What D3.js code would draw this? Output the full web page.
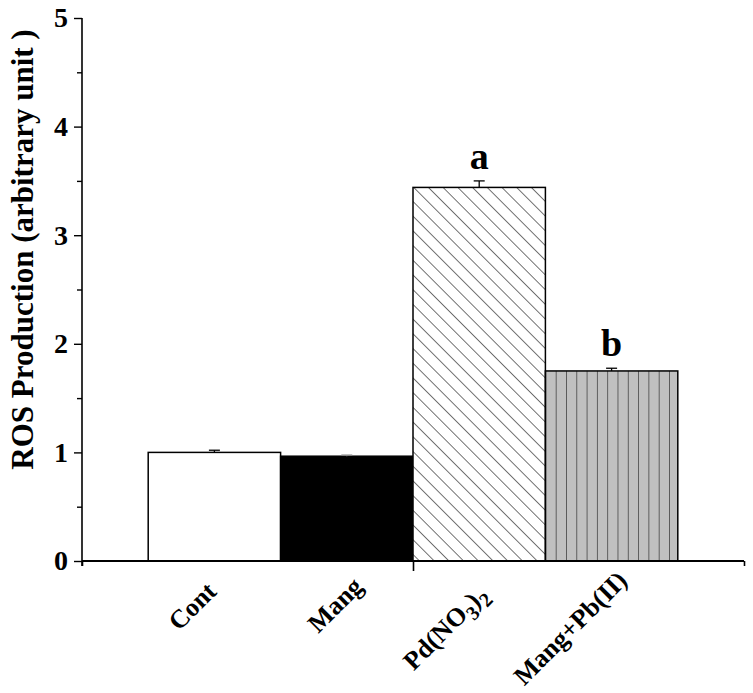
<!DOCTYPE html>
<html><head><meta charset="utf-8">
<script src="https://cdn.jsdelivr.net/npm/d3@7"></script>
<style>body{margin:0;background:#fff}svg{display:block}</style>
</head><body><svg id="c" width="753" height="693"></svg>
<script>
// ---- data ----
const categories = ["Cont", "Mang", "Pd(NO3)2", "Mang+Pb(II)"];
const values = [1.00, 0.965, 3.44, 1.75];
const errors = [0.02, 0.01, 0.06, 0.025];
const sigLetters = ["", "", "a", "b"];
const yTicks = [0, 1, 2, 3, 4, 5];
const yMinorTicks = [0.5, 1.5, 2.5, 3.5, 4.5];
const xTicks = [0, 2.5, 5];
const yTitle = "ROS Production (arbitrary unit )";

// ---- layout ----
const svg = d3.select("#c");
const FONT = "'Liberation Serif','Times New Roman',Times,serif";
const x = d3.scaleLinear().domain([0, 5]).range([82, 744]);
const y = d3.scaleLinear().domain([0, 5]).range([561, 18]);
const bw = x(1) - x(0);

const defs = svg.append("defs");
// diagonal "\" hatch
const pHatch = defs.append("pattern").attr("id", "hatch")
  .attr("patternUnits", "userSpaceOnUse").attr("width", 10.4).attr("height", 10.4)
  .attr("patternTransform", `translate(${x(2.5)},${y(values[2])}) rotate(-45)`);
pHatch.append("rect").attr("width", 10.4).attr("height", 10.4).attr("fill", "#fff");
pHatch.append("line").attr("x1", 0).attr("y1", -1).attr("x2", 0).attr("y2", 12)
  .attr("stroke", "#000").attr("stroke-width", 1.1);
// vertical lines on gray
const pVert = defs.append("pattern").attr("id", "vert")
  .attr("patternUnits", "userSpaceOnUse").attr("width", 10.3).attr("height", 20)
  .attr("patternTransform", `translate(${x(3.5)},0)`);
pVert.append("rect").attr("width", 10.3).attr("height", 20).attr("fill", "#c0c0c0");
pVert.append("line").attr("x1", 0).attr("y1", -1).attr("x2", 0).attr("y2", 21)
  .attr("stroke", "#333").attr("stroke-width", 1.4);

const fills = ["#ffffff", "#000000", "url(#hatch)", "url(#vert)"];
const errColors = ["#000", "#888", "#000", "#000"];

// bars
svg.append("g").selectAll("rect").data(values).join("rect")
  .attr("x", (d, i) => x(i + 0.5))
  .attr("y", d => y(d))
  .attr("width", bw)
  .attr("height", d => y(0) - y(d))
  .attr("fill", (d, i) => fills[i])
  .attr("stroke", "#000").attr("stroke-width", 1.5);

// error bars
const eg = svg.append("g");
values.forEach((v, i) => {
  const cx = x(i + 1);
  eg.append("line").attr("x1", cx).attr("x2", cx).attr("y1", y(v)).attr("y2", y(v + errors[i]))
    .attr("stroke", errColors[i]).attr("stroke-width", 1.3);
  eg.append("line").attr("x1", cx - 5.5).attr("x2", cx + 5.5).attr("y1", y(v + errors[i])).attr("y2", y(v + errors[i]))
    .attr("stroke", errColors[i]).attr("stroke-width", 1.3);
});

// significance letters
svg.append("g").selectAll("text").data(sigLetters).join("text")
  .attr("x", (d, i) => x(i + 1))
  .attr("y", (d, i) => y(values[i] + errors[i]) - 12)
  .attr("text-anchor", "middle")
  .attr("font-family", FONT).attr("font-weight", "bold").attr("font-size", 38)
  .text(d => d);

// y axis
const yAxis = svg.append("g").attr("transform", `translate(${x(0)},0)`)
  .call(d3.axisLeft(y).tickValues(yTicks).tickSize(8).tickPadding(6).tickFormat(d3.format("d")));
yAxis.select(".domain").attr("stroke-width", 1.6).attr("d", `M0,${y(5)}V${y(0) + 5}`);
yAxis.selectAll(".tick line").attr("stroke-width", 1.4);
yAxis.selectAll("text").attr("font-family", FONT).attr("font-weight", "bold").attr("font-size", 28).attr("fill", "#000");
svg.append("g").attr("transform", `translate(${x(0)},0)`)
  .call(d3.axisLeft(y).tickValues(yMinorTicks).tickSize(5).tickFormat(""))
  .call(g => g.select(".domain").remove())
  .selectAll("line").attr("stroke-width", 1.4);

// x axis
const xAxis = svg.append("g").attr("transform", `translate(0,${y(0)})`)
  .call(d3.axisBottom(x).tickValues(xTicks).tickSizeInner(5).tickSizeOuter(0).tickFormat(""));
xAxis.select(".domain").attr("stroke-width", 2).attr("d", `M${x(0)},0H${x(5)}`);
xAxis.selectAll(".tick line").attr("stroke-width", 1.6).attr("y2", d => d === 2.5 ? 10 : 5);

// x category labels (rotated, with subscripts for digits)
const labelShift = [[3.5, 32], [17.5, 27], [10, 35], [17, 21]];
categories.forEach((c, i) => {
  const ex = x(i + 1) + labelShift[i][0], ey = y(0) + labelShift[i][1];
  const t = svg.append("text")
    .attr("transform", `translate(${ex},${ey}) rotate(-45)`)
    .attr("text-anchor", "end")
    .attr("font-family", FONT).attr("font-weight", "bold").attr("font-size", 26);
  const parts = c.match(/\d+|[^\d]+/g);
  let sub = false;
  parts.forEach(p => {
    const isNum = /^\d+$/.test(p);
    const ts = t.append("tspan").text(p);
    if (isNum && !sub) { ts.attr("dy", 7).attr("font-size", 20); sub = true; }
    else if (isNum) { ts.attr("font-size", 20); }
    else if (sub) { ts.attr("dy", -7); sub = false; }
  });
});

// y title
svg.append("text")
  .attr("transform", `translate(33,${(y(0) + y(5)) / 2 - 40}) rotate(-90)`)
  .attr("text-anchor", "middle")
  .attr("font-family", FONT).attr("font-weight", "bold").attr("font-size", 31)
  .text(yTitle);
</script></body></html>
